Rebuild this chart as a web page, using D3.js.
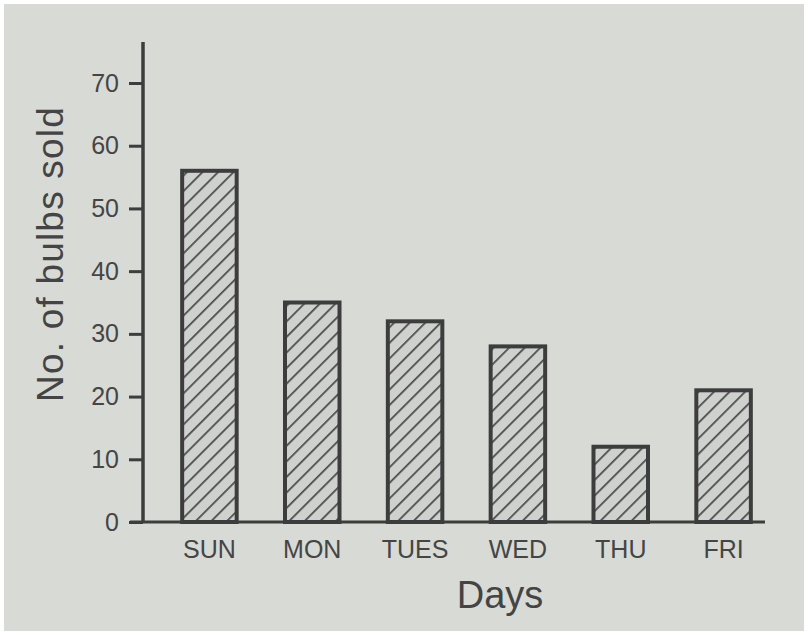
<!DOCTYPE html>
<html>
<head>
<meta charset="utf-8">
<script src="https://cdn.jsdelivr.net/npm/d3@7"></script>
<style>
  body { margin: 0; background: #ffffff; }
  svg { display: block; }
</style>
</head>
<body>
<svg id="chart"></svg>
<script>
// values
const days = ["SUN", "MON", "TUES", "WED", "THU", "FRI"];
const bulbsSold = [56, 35, 32, 28, 12, 21];
const yTicks = [0, 10, 20, 30, 40, 50, 60, 70];

const width = 808, height = 635;
const margin = { top: 83, right: 33, bottom: 113, left: 143 };

const svg = d3.select("#chart").attr("width", width).attr("height", height);

// paper background inside a thin white frame
svg.append("rect")
  .attr("x", 4).attr("y", 4)
  .attr("width", width - 8).attr("height", height - 8)
  .attr("fill", "#d7dad5");

const defs = svg.append("defs");
const hatch = defs.append("pattern")
  .attr("id", "hatch")
  .attr("patternUnits", "userSpaceOnUse")
  .attr("width", 11).attr("height", 11)
  .attr("patternTransform", "rotate(45)");
hatch.append("rect").attr("width", 11).attr("height", 11).attr("fill", "#cfd1cf");
hatch.append("line")
  .attr("x1", 0).attr("y1", 0).attr("x2", 0).attr("y2", 11)
  .attr("stroke", "#4a4a4a").attr("stroke-width", 3.5);

const ink = "#3d3d3d";
const font = "Liberation Sans, Arial, sans-serif";
const plotH = height - margin.top - margin.bottom; // 0..70

const x = d3.scaleBand()
  .domain(days)
  .range([158, 775])
  .paddingInner(0.47)
  .paddingOuter(0.235);

const y = d3.scaleLinear()
  .domain([0, 70])
  .range([margin.top + plotH, margin.top]);

// bars
svg.append("g")
  .selectAll("rect")
  .data(days)
  .join("rect")
  .attr("x", d => x(d))
  .attr("y", (d, i) => y(bulbsSold[i]))
  .attr("width", x.bandwidth())
  .attr("height", (d, i) => y(0) - y(bulbsSold[i]))
  .attr("fill", "url(#hatch)")
  .attr("stroke", ink)
  .attr("stroke-width", 4);

// y axis
const yAxis = svg.append("g")
  .attr("transform", `translate(${margin.left},0)`)
  .call(d3.axisLeft(y).tickValues(yTicks).tickSize(14).tickPadding(10).tickSizeOuter(0));
yAxis.select(".domain").remove();
yAxis.selectAll(".tick line").attr("stroke", ink).attr("stroke-width", 3);
yAxis.selectAll(".tick text")
  .attr("fill", "#454545")
  .attr("font-family", font)
  .attr("font-size", 25);

svg.append("line")
  .attr("x1", margin.left).attr("x2", margin.left)
  .attr("y1", 42).attr("y2", y(0))
  .attr("stroke", ink).attr("stroke-width", 3.5);

// x axis
const xAxis = svg.append("g")
  .attr("transform", `translate(0,${y(0)})`)
  .call(d3.axisBottom(x).tickSize(0).tickPadding(18));
xAxis.select(".domain").remove();
xAxis.selectAll(".tick text")
  .attr("fill", "#454545")
  .attr("font-family", font)
  .attr("font-size", 25);

svg.append("line")
  .attr("x1", 130).attr("x2", 765)
  .attr("y1", y(0)).attr("y2", y(0))
  .attr("stroke", ink).attr("stroke-width", 3);

// axis titles
svg.append("text")
  .attr("transform", "translate(63,254) rotate(-90)")
  .attr("text-anchor", "middle")
  .attr("fill", "#444")
  .attr("font-family", font)
  .attr("font-size", 37)
  .attr("letter-spacing", 1.2)
  .text("No. of bulbs sold");

svg.append("text")
  .attr("x", 500).attr("y", 608)
  .attr("text-anchor", "middle")
  .attr("fill", "#444")
  .attr("font-family", font)
  .attr("font-size", 38)
  .text("Days");
</script>
</body>
</html>
